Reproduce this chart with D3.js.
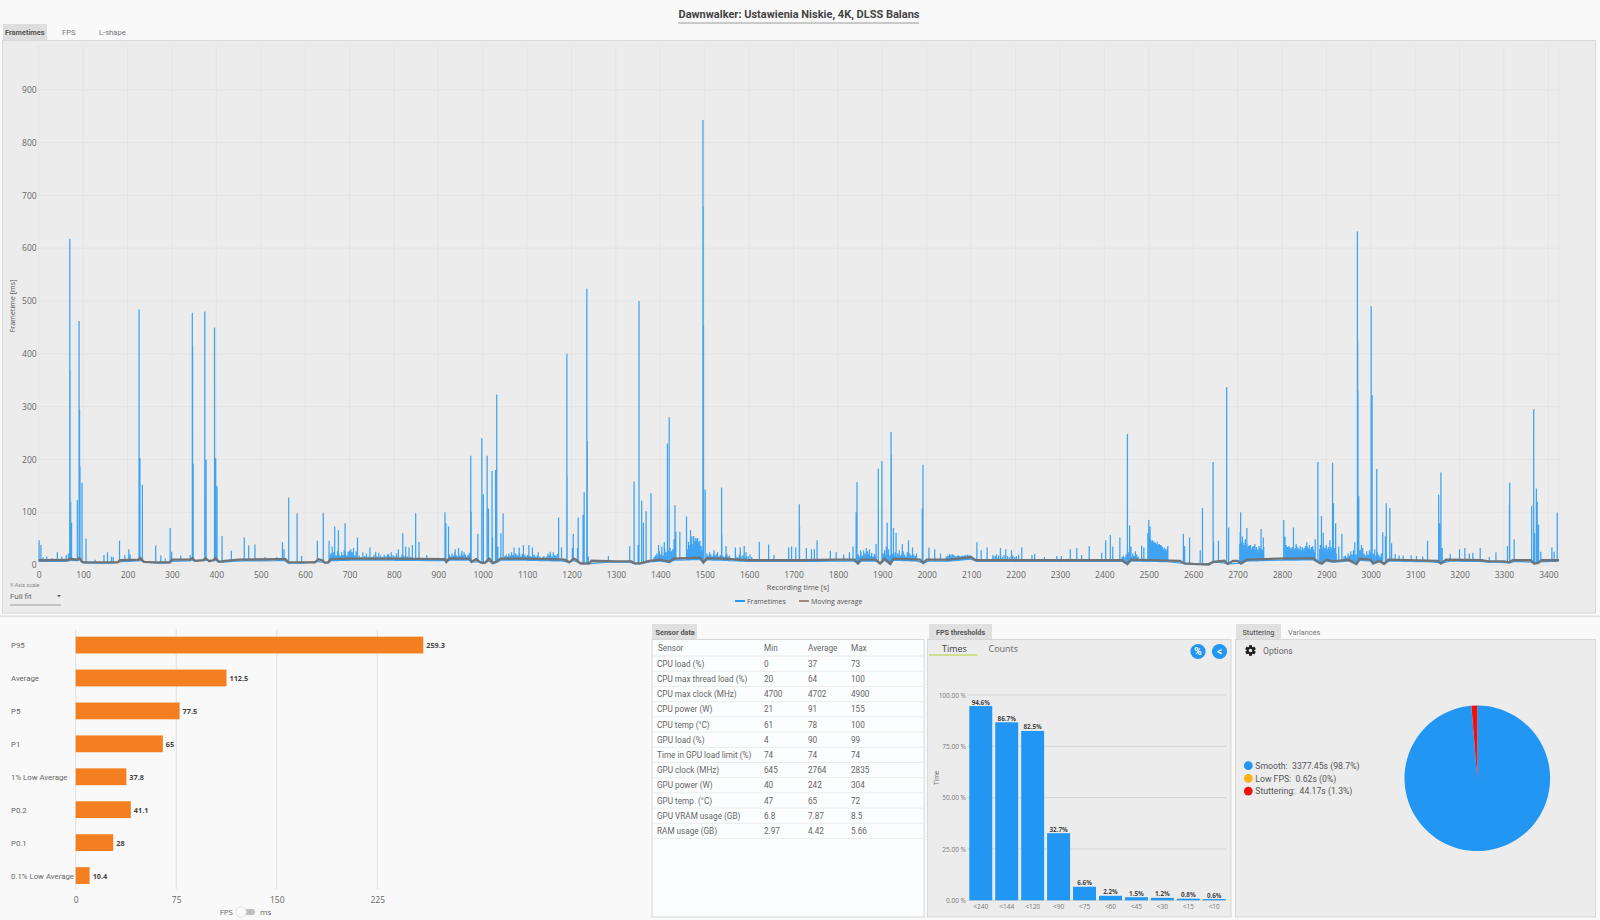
<!DOCTYPE html>
<html><head><meta charset="utf-8">
<script src="https://cdn.jsdelivr.net/npm/d3@7"></script>
<style>
html,body{margin:0;padding:0;background:#f9f9f9;overflow:hidden}
svg{display:block}
text{font-family:Roboto,sans-serif;fill:#555}
.os{font-family:"Open Sans",sans-serif}
</style></head><body>
<svg id="c" width="1600" height="920"></svg>
<script>
const titleText = "Dawnwalker: Ustawienia Niskie, 4K, DLSS Balans";
const frameSpikes = [[1,47],[5,38],[10,14],[18,16],[30,13],[42,24],[52,16],[62,19],[67,22],[70,618],[70.6,370],[72,120],[74,80],[87,123],[91,462],[92,295],[93,187],[97.5,156],[106.6,50],[127,10],[147,19],[155,24],[164,16],[168,15],[182,46],[194,19],[203,30],[206,20],[226,484],[228,202],[233.5,152],[263.5,37],[275,18],[285,13],[296,70],[299.5,25],[320,18],[341,19],[346,478],[346.6,413],[348,192],[374,480],[377,200],[396,450],[398.6,202],[401.6,149],[413,55],[434,27],[463,52],[473,37],[487,39],[510,15],[536,15],[549,43],[552.6,30],[563,128],[582,98],[592,17],[627.6,46],[641,99],[654,46],[661,35],[666.7,73],[675,66],[690,79],[700,27],[709,32],[718,52],[730,24],[746,33],[759,25],[788,20],[810,30],[820,60],[826.6,35],[834,33],[841.6,38],[849,98],[856.5,44],[874,19],[915,100],[917,79],[923,73],[938,30],[945.5,32],[953,27],[973,207],[974,101],[989,59],[998,240],[1001.5,134],[1010,207],[1013,107],[1021,178],[1022,52],[1029,180],[1031.6,323],[1034,35],[1041,60],[1046,98],[1070.6,33],[1082,33],[1091.6,38],[1104,38],[1112,33],[1125,24],[1152,25],[1171,90],[1177.5,33],[1189.5,400],[1190,170],[1202,32],[1204,59],[1213.5,32],[1215,90],[1226,95],[1228.5,138],[1234.5,523],[1235.5,235],[1238,16],[1283,17],[1331,36],[1341,158],[1350,38],[1352,500],[1358,122],[1362,80],[1368,102],[1379,136],[1396,38],[1403.5,35],[1409,43],[1416,230],[1420,280],[1431,49],[1433,113],[1435,63],[1444,63],[1459,92],[1468,66],[1471,54],[1475,55],[1480,51],[1484,51],[1490,35],[1496,843],[1496.6,678],[1497.2,453],[1501,143],[1521,28],[1538,147],[1538.6,57],[1548,36],[1569,33],[1580,33],[1589,36],[1593,24],[1623,44],[1644,39],[1656,19],[1689,33],[1695.6,35],[1705,33],[1713,115],[1713.5,73],[1729,32],[1740.5,30],[1747,30],[1753,47],[1783,27],[1796,24],[1813,20],[1826,24],[1834,35],[1841,100],[1843,157],[1851,28],[1858,28],[1864,32],[1871,30],[1886,40],[1891,183],[1899,197],[1909,35],[1911,80],[1919.6,252],[1920.2,209],[1925,70],[1931,61],[1935,22],[1945,40],[1959,47],[1968,33],[1990,107],[1991.6,190],[2005,33],[2018,30],[2031,22],[2051.5,21],[2057,21],[2081.5,17],[2100,16],[2113,43],[2122.6,28],[2136,33],[2149,19],[2157,20],[2166,32],[2178,30],[2191,28],[2207,20],[2214,33],[2237,19],[2243,21],[2265,15],[2293,17],[2303,17],[2323.4,30],[2338,32],[2349,19],[2366,36],[2394,23],[2403,47],[2413.5,57],[2419,35],[2435,52],[2452,248],[2457,75],[2460,35],[2484,37],[2489,33],[2500,85],[2503,73],[2509,47],[2514,40],[2522,39],[2527.6,38],[2537,25],[2543,36],[2578,59],[2581,36],[2592,52],[2616,28],[2621,108],[2645,195],[2646,44],[2657,46],[2675.5,337],[2680,71],[2706,63],[2707,100],[2711,54],[2717.6,49],[2721,70],[2726.6,37],[2733,35],[2739,40],[2753,68],[2758,52],[2804,85],[2807,54],[2817,33],[2826,71],[2832,40],[2841,33],[2856,43],[2875,49],[2881,195],[2889,93],[2893,61],[2908,47],[2914,193],[2916,117],[2921,79],[2928,35],[2935,59],[2964,43],[2970,632],[2970.6,425],[2971.2,330],[2973,130],[2979,38],[2982,32],[3001,490],[3003,322],[3013.5,182],[3027,62],[3033,54],[3035,117],[3043,108],[3047,41],[3055,21],[3064,18],[3073,18],[3091,18],[3103,17],[3117,16],[3128,46],[3153,133],[3155,79],[3158,175],[3161,32],[3179,21],[3200,30],[3212,32],[3222,22],[3230,23],[3246.5,32],[3267,15],[3282,24],[3308,36],[3312.5,114],[3313,156],[3323,49],[3362.5,112],[3367,295],[3369,60],[3373,145],[3375,120],[3378,76],[3383,25],[3408,33],[3413,25],[3420,99]];
const fuzzRuns = [
 [655,3,[18,22,16,24,20,18,26,21,17,24,19,28,22,18,25,20,30,24,21,18,26,22]],
 [722,4,[18,15,20,17,22,16,19,15,18,21,16,23,18,15,20,17,21,16,24,19,17,22,18,15,20,17,19,16,18,15]],
 [925,3,[20,16,22,18,24,19,16,21,17,22,18,24,20,16,19,23]],
 [1050,3,[17,20,16,22,18,24,19,17,22,20,18,23,16,21,18,20,16,19,22,17,15,18,20,16]],
 [1120,3,[15,18,14,16,13,15,17,14,16,22,18,20,16,24,19,17,21]],
 [1386,3,[15,18,22,17,26,20,24,18,30,24,20,28,32,26,30]],
 [1462,1.5,[30,44,28,38,50,34,44,30,40,52,36,46,32,48,38,30,44,34,46,30,36,28]],
 [1505,3,[22,18,24,20,16,22,18,21,24,16,19,22,17,15,18,21,16,18]],
 [1570,4,[18,15,20,16,19,14,17,16,20,15]],
 [1846,3,[20,16,24,18,15,22,17,26,20,18,23,16,21,18]],
 [1902,3,[22,28,20,16,30,18,26,22,18,24,16,20,28,18,22,26,20,16,24,17,22,18,15,20,17,22]],
 [2044,3,[16,18,17,19,16,20,18,16,17,19,17,16,18,17,19,18,20,18,19,17]],
 [2150,4,[15,17,14,18,13,16,19,15,17,14,16,18,15,17]],
 [2440,3,[15,18,14,20,16,24,18,15,22,17,26,20,16]],
 [2498,1,[60,52,48,56,44,60,50,42,38,46,40,36,42,34,44,30,38,42,36,40,32,44,30,38,36,34,40,28,36,38,32,36,26,34,30,24,28,32,22,26,30,20,24,28,32,22]],
 [2705,1.5,[40,46,36,44,32,42,30,38,46,34,30,40,28,36,32,26,38,30,24,34,28,36,22,30,26,34,24,30,22,36,26,32,24,30,28,22,34]],
 [2808,1.5,[30,38,26,34,28,36,24,32,30,26,34,28,36,30,24,32,26,36,28,32,24,30,36,28,26,34,30,24,32,28,36,30,26,34,28,32,38,30,26,34,28,36,30,24]],
 [2885,1.5,[30,38,26,34,30,22,36,28,32,24,38,30,26,34,30,22,28,34,26,30,24,28,32,26,30,22]],
 [2940,3,[16,18,14,22,18,26,20,28,24,20,26,22,28,30,24,22,18,26,20,28,24,18,22,30,18,24,20,16,22]]
];
const avgPoints = [[0,9],[65,9.5],[72,12],[85,10],[92,13],[98,6],[105,5],[178,5],[183,9],[225,10],[229,13],[237,6],[262,5],[295,5],[300,10],[340,10],[346,13],[352,8],[370,9],[376,13],[384,7],[393,9],[398,13],[406,6],[420,8],[450,10],[540,11],[556,11],[562,5],[622,5],[630,11],[638,9],[645,4],[652,5],[658,11],[700,12],[800,12],[915,11],[918,6],[924,12],[970,12],[975,6],[985,11],[995,5],[1005,4],[1015,12],[1022,4],[1030,6],[1040,12],[1100,12],[1185,10],[1195,5],[1205,12],[1210,10],[1220,3],[1240,3],[1245,8],[1300,7],[1335,7],[1342,3],[1355,3],[1375,8],[1400,10],[1420,6],[1430,12],[1490,14],[1497,5],[1505,13],[1540,12],[1600,9],[1720,9],[1800,10],[1838,10],[1845,3],[1852,10],[1885,10],[1895,3],[1905,12],[1918,2],[1925,12],[1985,10],[1992,4],[2000,10],[2050,10],[2100,15],[2110,9],[2300,9],[2440,9],[2452,2],[2460,10],[2570,8],[2580,3],[2600,2],[2635,1],[2645,6],[2670,8],[2678,2],[2690,8],[2700,8],[2708,3],[2720,10],[2790,12],[2870,13],[2885,4],[2890,3],[2900,10],[2915,7],[2950,10],[2968,2],[2975,12],[3000,10],[3005,3],[3020,8],[3030,2],[3040,10],[3150,8],[3158,3],[3170,10],[3250,9],[3265,7],[3300,7],[3312,5],[3320,9],[3360,9],[3368,3],[3376,4],[3385,9],[3424,9]];
const xTicks = d3.range(0,3401,100);
const yTicks = [0,100,200,300,400,500,600,700,800,900];

const barLabels = ["P95","Average","P5","P1","1% Low Average","P0.2","P0.1","0.1% Low Average"];
const barValues = [259.3,112.5,77.5,65,37.8,41.1,28,10.4];
const barTicks = [0,75,150,225];

const sensorHead = ["Sensor","Min","Average","Max"];
const sensorRows = [
 ["CPU load (%)","0","37","73"],["CPU max thread load (%)","20","64","100"],["CPU max clock (MHz)","4700","4702","4900"],
 ["CPU power (W)","21","91","155"],["CPU temp (°C)","61","78","100"],["GPU load (%)","4","90","99"],
 ["Time in GPU load limit (%)","74","74","74"],["GPU clock (MHz)","645","2764","2835"],["GPU power (W)","40","242","304"],
 ["GPU temp. (°C)","47","65","72"],["GPU VRAM usage (GB)","6.8","7.87","8.5"],["RAM usage (GB)","2.97","4.42","5.66"]];

const fpsLabels = ["<240","<144","<120","<90","<75","<60","<45","<30","<15","<10"];
const fpsValues = [94.6,86.7,82.5,32.7,6.6,2.2,1.5,1.2,0.8,0.6];
const fpsTicks = [0,25,50,75,100];

const pieLabels = ["Smooth:  3377.45s (98.7%)","Low FPS:  0.62s (0%)","Stuttering:  44.17s (1.3%)"];
const pieValues = [3377.45,0.62,44.17];
const pieColors = ["#2196f3","#ffb020","#f01010"];

const svg = d3.select("#c");
const txt = (x,y,s,o={}) => svg.append("text").attr("x",x).attr("y",y).text(s)
  .attr("font-size",o.size||9).attr("font-weight",o.w||400).attr("text-anchor",o.a||"start")
  .style("fill",o.fill||"#555").attr("class",o.cls||null);
const rect = (x,y,w,h,f,s) => svg.append("rect").attr("x",x).attr("y",y).attr("width",w).attr("height",h).attr("fill",f).attr("stroke",s||"none");

// title and top tabs
txt(799,18,titleText,{size:11,w:700,a:"middle",fill:"#444"});
svg.append("line").attr("x1",678).attr("x2",919).attr("y1",23).attr("y2",23).attr("stroke","#999");
rect(3,24,44,16,"#dedede");
txt(5,35,"Frametimes",{size:7.4,w:700,fill:"#555"});
txt(62,35,"FPS",{size:7.6,fill:"#777"});
txt(99,35,"L-shape",{size:7.6,fill:"#777"});

// main panel
rect(2.5,40.5,1593,572.5,"#ececec","#d8d8d8");
rect(0,615.5,1600,1.6,"#e2e2e2");
const plotL=38.7, plotR=1559, plotT=46, plotB=565;
const x = d3.scaleLinear().domain([0,3424]).range([plotL,plotR]);
const y = d3.scaleLinear().domain([0,983]).range([plotB,plotT]);
const gGrid = svg.append("g");
xTicks.forEach(t=>gGrid.append("line").attr("x1",x(t)).attr("x2",x(t)).attr("y1",plotT).attr("y2",plotB).attr("stroke","#e5e5e5"));
yTicks.forEach(t=>gGrid.append("line").attr("x1",plotL).attr("x2",plotR).attr("y1",y(t)).attr("y2",y(t)).attr("stroke","#e5e5e5"));
gGrid.append("line").attr("x1",plotR).attr("x2",plotR).attr("y1",plotT).attr("y2",plotB).attr("stroke","#e5e5e5");
gGrid.append("line").attr("x1",plotL).attr("x2",plotR).attr("y1",plotT).attr("y2",plotT).attr("stroke","#e5e5e5");

const avgAt = d3.scaleLinear().domain(avgPoints.map(d=>d[0])).range(avgPoints.map(d=>d[1]));
const fuzzPoints = fuzzRuns.flatMap(([s,st,vals])=>vals.map((v,i)=>[s+i*st,v]));
const allPeaks = frameSpikes.concat(fuzzPoints).sort((a,b)=>a[0]-b[0]);
const frameSeries = allPeaks.flatMap(([t,v])=>[[t-0.05,avgAt(t)*0.75],[t,v],[t+0.05,avgAt(t)*0.75]]);
const line = d3.line().x(d=>x(d[0])).y(d=>y(d[1]));
svg.append("path").attr("d",line(frameSeries)).attr("fill","none").attr("stroke","#2196f3").attr("stroke-width",1.25).attr("stroke-opacity",.85);
svg.append("path").attr("d",line(avgPoints)).attr("fill","none").attr("stroke","#6f7376").attr("stroke-width",2.3);

const axX = svg.append("g").attr("transform",`translate(0,${plotB})`).call(d3.axisBottom(x).tickValues(xTicks).tickSize(0).tickPadding(7).tickFormat(d3.format("d")));
axX.select(".domain").remove();
axX.selectAll("text").attr("font-size",8.5).style("fill","#666").style("font-family","'Open Sans',sans-serif");
const axY = svg.append("g").attr("transform",`translate(${plotL},0)`).call(d3.axisLeft(y).tickValues(yTicks).tickSize(0).tickPadding(2).tickFormat(d3.format("d")));
axY.select(".domain").remove();
axY.selectAll("text").attr("font-size",8.5).style("fill","#666").style("font-family","'Open Sans',sans-serif");

svg.append("text").attr("transform","translate(15,306) rotate(-90)").attr("text-anchor","middle").attr("font-size",7.2).style("fill","#555").attr("class","os").text("Frametime [ms]");
txt(798,590,"Recording time [s]",{size:7.4,a:"middle",cls:"os"});
svg.append("line").attr("x1",735).attr("x2",745).attr("y1",601).attr("y2",601).attr("stroke","#2196f3").attr("stroke-width",2);
txt(747,604,"Frametimes",{size:7,cls:"os"});
svg.append("line").attr("x1",799).attr("x2",809).attr("y1",601).attr("y2",601).attr("stroke","#a1887f").attr("stroke-width",2);
txt(811,604,"Moving average",{size:7,cls:"os"});

txt(10,587,"Y-Axis scale",{size:5.5,fill:"#888"});
txt(10,599,"Full fit",{size:8,fill:"#666"});
svg.append("path").attr("d",d3.line()([[57,595],[61,595],[59,597.5]])+"Z").attr("fill","#666");
svg.append("line").attr("x1",10).attr("x2",61).attr("y1",605).attr("y2",605).attr("stroke","#999");

// bars
const bx = d3.scaleLinear().domain([0,225]).range([75.7,377.3]);
const by = d3.scaleBand().domain(barLabels).range([628.6,892]).paddingInner(.49).paddingOuter(.245);
barTicks.forEach(t=>svg.append("line").attr("x1",bx(t)).attr("x2",bx(t)).attr("y1",629).attr("y2",889).attr("stroke","#e0e0e0"));
svg.selectAll(".b").data(barValues).enter().append("rect").attr("x",bx(0)).attr("y",(d,i)=>by(barLabels[i]))
  .attr("width",d=>bx(d)-bx(0)).attr("height",by.bandwidth()).attr("fill","#f47f20");
barLabels.forEach((l,i)=>{
  const cy=by(l)+by.bandwidth()/2;
  txt(11,cy+3,l,{size:7.8,fill:"#666"});
  txt(bx(barValues[i])+3,cy+3,String(barValues[i]),{size:7.3,w:700,cls:"os",fill:"#444"});
});
const axB = svg.append("g").attr("transform","translate(0,892)").call(d3.axisBottom(bx).tickValues(barTicks).tickSize(0).tickPadding(5).tickFormat(d3.format("d")));
axB.select(".domain").remove();
axB.selectAll("text").attr("font-size",8.5).style("fill","#666").style("font-family","'Open Sans',sans-serif");
txt(233,915,"FPS",{size:8,a:"end",fill:"#666",cls:"os"});
rect(241,909,14,6,"#bdbdbd").attr("rx",3);
svg.append("circle").attr("cx",241).attr("cy",912).attr("r",5.2).attr("fill","#fafafa").attr("stroke","#e4e4e4");
txt(260,915,"ms",{size:8,fill:"#666",cls:"os"});

// sensor table
rect(652,624,45,15.5,"#e0e0e0");
txt(655.5,634.5,"Sensor data",{size:7.3,w:700,fill:"#555"});
rect(652,639.5,272,277.5,"#fcfdfe","#d8d8d8");
const colX=[657,764,808,851], rowY0=663.7, rowH=15.2;
sensorHead.forEach((h,i)=>txt(colX[i]+(i?0:1),651,h,{size:8.2,fill:"#666"}));
svg.append("line").attr("x1",653).attr("x2",923).attr("y1",656).attr("y2",656).attr("stroke","#e8e8e8");
sensorRows.forEach((r,k)=>{
  r.forEach((c,i)=>txt(colX[i],rowY0+k*rowH+3,c,{size:8.2,fill:"#666"}));
  svg.append("line").attr("x1",653).attr("x2",923).attr("y1",rowY0+k*rowH+7.6).attr("y2",rowY0+k*rowH+7.6).attr("stroke","#ececec");
});

// thresholds
rect(929,624,63,15.5,"#e0e0e0");
txt(936,634.5,"FPS thresholds",{size:7.2,w:700,fill:"#555"});
rect(927.5,639.5,303.5,277.5,"#ececec","#d8d8d8");
txt(942,652,"Times",{size:9,fill:"#444",cls:"os"});
txt(988.5,652,"Counts",{size:9,fill:"#666",cls:"os"});
svg.append("line").attr("x1",929).attr("x2",977.5).attr("y1",655).attr("y2",655).attr("stroke","#b5d334").attr("stroke-width",1.2);
[[1198,"%"],[1219.5,"<"]].forEach(([cx,s])=>{
  svg.append("circle").attr("cx",cx).attr("cy",651.5).attr("r",7.6).attr("fill","#2196f3");
  txt(cx,655,s,{size:10,a:"middle",fill:"#fff",w:700});
});
const fy = d3.scaleLinear().domain([0,100]).range([900.3,695]);
const fx = d3.scaleBand().domain(fpsLabels).range([968,1227]).paddingInner(.115).paddingOuter(.05);
fpsTicks.forEach(t=>svg.append("line").attr("x1",967).attr("x2",1226).attr("y1",fy(t)).attr("y2",fy(t)).attr("stroke","#d4d4d4"));
svg.selectAll(".f").data(fpsValues).enter().append("rect").attr("x",(d,i)=>fx(fpsLabels[i])).attr("y",d=>fy(d))
  .attr("width",fx.bandwidth()).attr("height",d=>fy(0)-fy(d)).attr("fill","#2196f3");
fpsValues.forEach((v,i)=>txt(fx(fpsLabels[i])+fx.bandwidth()/2,fy(v)-1.5,v.toFixed(1)+"%",{size:6.3,w:700,a:"middle",fill:"#444",cls:"os"}));
const axF = svg.append("g").attr("transform","translate(0,900.3)").call(d3.axisBottom(fx).tickSize(0).tickPadding(4));
axF.select(".domain").remove();
axF.selectAll("text").attr("font-size",6.5).style("fill","#777").style("font-family","'Open Sans',sans-serif");
const axFy = svg.append("g").attr("transform","translate(966,0)").call(d3.axisLeft(fy).tickValues(fpsTicks).tickSize(0).tickPadding(0).tickFormat(d=>d.toFixed(2)+" %"));
axFy.select(".domain").remove();
axFy.selectAll("text").attr("font-size",6.5).style("fill","#777").style("font-family","'Open Sans',sans-serif");
svg.append("text").attr("transform","translate(939,778) rotate(-90)").attr("text-anchor","middle").attr("font-size",6.5).style("fill","#777").text("Time");

// stuttering
rect(1236,624,45,15.5,"#e0e0e0");
txt(1242.5,634.5,"Stuttering",{size:7.3,fill:"#444"});
txt(1288,634.5,"Variances",{size:7.3,fill:"#777"});
rect(1235.5,639.5,360,277.5,"#ececec","#d8d8d8");
const gear = svg.append("g").attr("transform","translate(1250.5,650.5)");
d3.range(0,180,60).forEach(a=>gear.append("rect").attr("x",-1.5).attr("y",-5.3).attr("width",3).attr("height",10.6).attr("fill","#222").attr("transform",`rotate(${a})`));
gear.append("circle").attr("r",3.8).attr("fill","#222");
gear.append("circle").attr("r",1.7).attr("fill","#ececec");
txt(1263,654,"Options",{size:8.6,fill:"#666"});
const pie = d3.pie().sort(null)(pieValues);
const arc = d3.arc().innerRadius(0).outerRadius(72.8);
const gp = svg.append("g").attr("transform","translate(1477.3,778.3)");
gp.selectAll("path").data(pie).enter().append("path").attr("d",arc).attr("fill",(d,i)=>pieColors[i]);
pieLabels.forEach((l,i)=>{
  const cy=765.7+i*12.7;
  svg.append("circle").attr("cx",1248.3).attr("cy",cy).attr("r",4.4).attr("fill",pieColors[i]);
  txt(1255.3,cy+3.3,l,{size:8.7,fill:"#555"}).style("white-space","pre");
});
</script></body></html>
